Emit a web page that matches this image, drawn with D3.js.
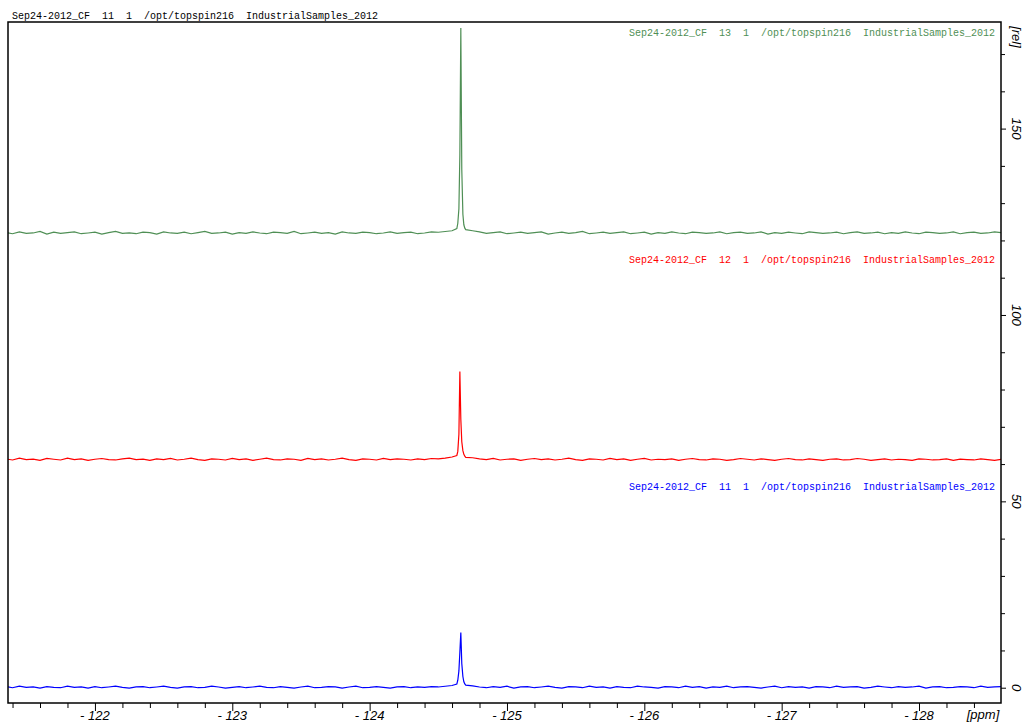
<!DOCTYPE html>
<html lang="en">
<head>
    <meta charset="UTF-8">
    <title>Sep24-2012_CF stacked 19F spectra</title>
    <script src="https://d3js.org/d3.v7.min.js"></script>
    <style>
        body { margin: 0; background: #fff; }
        svg { display: block; }
        .mono { font-family: "Liberation Mono", "DejaVu Sans Mono", monospace; font-size: 10px; white-space: pre; }
        .axlab { font-family: "Liberation Sans", Arial, sans-serif; font-size: 13px; font-style: italic; fill: #000; }
    </style>
</head>
<body>
    <div id="chart"></div>
    <script>
        // chemical shift grid (ppm), shared by the three spectra
        const ppm = [
            -121.35,-121.40,-121.45,-121.50,-121.55,-121.60,-121.65,-121.70,-121.75,-121.80,
            -121.85,-121.90,-121.95,-122.00,-122.05,-122.10,-122.15,-122.20,-122.25,-122.30,
            -122.35,-122.40,-122.45,-122.50,-122.55,-122.60,-122.65,-122.70,-122.75,-122.80,
            -122.85,-122.90,-122.95,-123.00,-123.05,-123.10,-123.15,-123.20,-123.25,-123.30,
            -123.35,-123.40,-123.45,-123.50,-123.55,-123.60,-123.65,-123.70,-123.75,-123.80,
            -123.85,-123.90,-123.95,-124.00,-124.05,-124.10,-124.15,-124.20,-124.25,-124.30,
            -124.35,-124.40,-124.45,-124.50,-124.55,-124.60,
            -124.635,-124.642,-124.650,-124.657,-124.664,-124.671,-124.679,-124.686,-124.693,-124.700,
            -124.75,-124.80,-124.85,-124.90,-124.95,-125.00,-125.05,-125.10,-125.15,-125.20,
            -125.25,-125.30,-125.35,-125.40,-125.45,-125.50,-125.55,-125.60,-125.65,-125.70,
            -125.75,-125.80,-125.85,-125.90,-125.95,-126.00,-126.05,-126.10,-126.15,-126.20,
            -126.25,-126.30,-126.35,-126.40,-126.45,-126.50,-126.55,-126.60,-126.65,-126.70,
            -126.75,-126.80,-126.85,-126.90,-126.95,-127.00,-127.05,-127.10,-127.15,-127.20,
            -127.25,-127.30,-127.35,-127.40,-127.45,-127.50,-127.55,-127.60,-127.65,-127.70,
            -127.75,-127.80,-127.85,-127.90,-127.95,-128.00,-128.05,-128.10,-128.15,-128.20,
            -128.25,-128.30,-128.35,-128.40,-128.45,-128.50,-128.55,-128.60
        ];

        // experiment 13 (top, green)
        const spec13 = [
            122.1,121.8,122.3,121.9,122.0,122.4,121.7,122.2,121.9,122.1,
            122.3,121.8,122.0,122.2,121.7,122.1,122.4,121.9,122.0,121.8,
            122.2,122.1,121.7,122.3,122.0,121.9,122.2,121.8,122.1,122.4,
            121.9,122.0,122.2,121.7,122.1,121.9,122.3,122.0,121.8,122.2,
            122.1,121.9,122.4,121.8,122.0,122.2,121.9,122.1,121.7,122.3,
            122.0,121.9,122.2,122.1,121.8,122.0,122.3,121.9,122.1,122.2,
            121.8,122.0,122.3,122.2,122.4,122.6,
            123.2,124.6,128.5,143.0,177.0,139.0,127.0,124.2,123.3,122.9,
            122.6,122.3,121.9,122.1,122.3,121.8,122.0,122.2,121.9,122.1,
            122.3,121.7,122.0,122.2,121.9,122.1,122.4,121.8,122.0,122.2,
            121.9,122.1,122.3,121.8,122.0,122.2,121.7,122.1,121.9,122.3,
            122.0,121.8,122.2,122.1,121.9,122.0,122.3,121.8,122.1,122.2,
            121.9,122.0,122.3,121.7,122.1,121.9,122.2,122.0,121.8,122.3,
            122.1,121.9,122.0,122.2,121.8,122.1,122.3,121.9,122.0,122.2,
            121.8,122.1,121.9,122.3,122.0,121.8,122.2,122.1,121.9,122.0,
            122.3,121.8,122.1,122.2,121.9,122.0,122.3,122.1
        ];

        // experiment 12 (middle, red)
        const spec12 = [
            61.4,61.1,61.6,61.2,61.3,61.0,61.5,61.3,61.1,61.6,
            61.2,61.4,61.0,61.3,61.5,61.2,61.1,61.4,61.6,61.2,
            61.3,61.0,61.4,61.2,61.5,61.1,61.3,61.6,61.2,61.0,
            61.4,61.3,61.1,61.5,61.2,61.4,61.0,61.3,61.6,61.2,
            61.1,61.4,61.3,61.0,61.5,61.2,61.4,61.1,61.3,61.6,
            61.2,61.0,61.4,61.3,61.1,61.5,61.2,61.4,61.3,61.1,
            61.4,61.2,61.5,61.4,61.6,61.9,
            62.3,63.4,68.0,84.8,72.0,66.0,63.6,62.6,62.1,61.8,
            61.7,61.4,61.2,61.5,61.1,61.3,61.4,61.0,61.3,61.5,
            61.2,61.4,61.1,61.3,61.6,61.2,61.0,61.4,61.3,61.1,
            61.5,61.2,61.4,61.0,61.3,61.5,61.1,61.3,61.2,61.4,
            61.0,61.3,61.5,61.2,61.1,61.4,61.3,61.0,61.2,61.5,
            61.3,61.1,61.4,61.2,61.0,61.3,61.5,61.2,61.1,61.4,
            61.2,61.0,61.3,61.4,61.1,61.2,61.5,61.3,61.0,61.2,
            61.4,61.1,61.3,61.2,61.0,61.4,61.3,61.1,61.2,61.4,
            61.0,61.3,61.2,61.1,61.4,61.2,61.0,61.3
        ];

        // experiment 11 (bottom, blue)
        const spec11 = [
            0.3,0.0,0.4,0.1,0.2,-0.1,0.3,0.1,0.0,0.4,
            0.1,0.2,-0.1,0.3,0.0,0.2,0.4,0.1,-0.1,0.2,
            0.3,0.0,0.2,0.4,0.1,-0.1,0.2,0.3,0.0,0.1,
            0.4,0.2,-0.1,0.1,0.3,0.0,0.2,0.4,0.1,0.0,
            0.3,0.1,-0.1,0.2,0.4,0.0,0.1,0.3,0.2,-0.1,
            0.2,0.4,0.0,0.1,0.3,0.1,-0.1,0.2,0.3,0.0,
            0.2,0.1,0.3,0.2,0.4,0.6,
            1.0,2.0,4.5,9.5,14.8,6.5,3.0,1.6,1.0,0.7,
            0.5,0.2,0.0,0.3,0.1,0.4,-0.1,0.2,0.3,0.0,
            0.2,0.4,0.1,-0.1,0.3,0.2,0.0,0.4,0.1,0.2,
            -0.1,0.3,0.1,0.0,0.4,0.2,0.1,-0.1,0.3,0.2,
            0.0,0.4,0.1,0.3,-0.1,0.2,0.1,0.4,0.0,0.2,
            0.3,0.1,-0.1,0.2,0.4,0.0,0.3,0.1,0.2,-0.1,
            0.3,0.2,0.0,0.4,0.1,0.2,0.3,-0.1,0.1,0.4,
            0.2,0.0,0.3,0.1,0.2,0.4,-0.1,0.2,0.3,0.0,
            0.1,0.3,0.2,0.0,0.4,0.1,0.2,0.3
        ];

        const expNames = ["13", "12", "11"];
        const titleText = "Sep24-2012_CF  11  1  /opt/topspin216  IndustrialSamples_2012";

        const xMajor = [-122, -123, -124, -125, -126, -127, -128];
        const xMinor = [-121.4, -121.6, -121.8, -122.2, -122.4, -122.6, -122.8, -123.2, -123.4, -123.6, -123.8,
                        -124.2, -124.4, -124.6, -124.8, -125.2, -125.4, -125.6, -125.8, -126.2, -126.4, -126.6, -126.8,
                        -127.2, -127.4, -127.6, -127.8, -128.2, -128.4];
        const yMajor = [0, 50, 100, 150];
        const yMinor = [10, 20, 30, 40, 60, 70, 80, 90, 110, 120, 130, 140, 160, 170];

        const W = 1023, H = 724;
        const frame = {left: 8, top: 22, right: 1001, bottom: 703};

        const svg = d3.select("#chart").append("svg")
            .attr("width", W)
            .attr("height", H);

        const x = d3.scaleLinear().domain([-121.367, -128.597]).range([frame.left, frame.right]);
        const y = d3.scaleLinear().domain([-4.1, 178.6]).range([frame.bottom, frame.top]);

        svg.append("defs").append("clipPath").attr("id", "plotClip")
            .append("rect")
            .attr("x", frame.left).attr("y", frame.top)
            .attr("width", frame.right - frame.left).attr("height", frame.bottom - frame.top);

        const series = [
            {name: expNames[0], values: spec13, color: "#4f8f55", labelY: 36},
            {name: expNames[1], values: spec12, color: "#ff0000", labelY: 263},
            {name: expNames[2], values: spec11, color: "#0000ff", labelY: 490}
        ];

        const line = d3.line()
            .x((d, i) => x(ppm[i]))
            .y(d => y(d));

        const plot = svg.append("g").attr("clip-path", "url(#plotClip)");

        plot.selectAll("path.spec")
            .data(series)
            .enter().append("path")
            .attr("class", "spec")
            .attr("fill", "none")
            .attr("stroke", d => d.color)
            .attr("stroke-width", 1.2)
            .attr("d", d => line(d.values));

        // dataset labels, right aligned inside the frame
        svg.selectAll("text.dslabel")
            .data(series)
            .enter().append("text")
            .attr("class", "mono dslabel")
            .attr("x", 995)
            .attr("y", d => d.labelY)
            .attr("text-anchor", "end")
            .attr("fill", d => d.color)
            .text(d => titleText.replace("  11  ", "  " + d.name + "  "));

        // header above frame
        svg.append("text")
            .attr("class", "mono")
            .attr("x", 12)
            .attr("y", 18.5)
            .attr("fill", "#000")
            .text(titleText);

        // frame
        svg.append("rect")
            .attr("x", frame.left).attr("y", frame.top)
            .attr("width", frame.right - frame.left).attr("height", frame.bottom - frame.top)
            .attr("fill", "none")
            .attr("stroke", "#000")
            .attr("stroke-width", 1.5);

        // bottom ppm axis
        const xMinorAxis = svg.append("g")
            .attr("transform", `translate(0,${frame.bottom})`)
            .call(d3.axisBottom(x).tickValues(xMinor).tickSize(5).tickFormat(""));
        const xMajorAxis = svg.append("g")
            .attr("transform", `translate(0,${frame.bottom})`)
            .call(d3.axisBottom(x).tickValues(xMajor).tickSize(8).tickFormat(""));

        [xMinorAxis, xMajorAxis].forEach(g => {
            g.select(".domain").remove();
            g.selectAll("line").attr("stroke", "#000").attr("stroke-width", 1);
        });

        svg.selectAll("text.xlab")
            .data(xMajor)
            .enter().append("text")
            .attr("class", "axlab xlab")
            .attr("text-anchor", "middle")
            .attr("x", d => x(d))
            .attr("y", 720)
            .style("white-space", "pre")
            .text(d => "- " + Math.abs(d));

        // right intensity axis
        const yMinorAxis = svg.append("g")
            .attr("transform", `translate(${frame.right},0)`)
            .call(d3.axisRight(y).tickValues(yMinor).tickSize(4).tickFormat(""));
        const yMajorAxis = svg.append("g")
            .attr("transform", `translate(${frame.right},0)`)
            .call(d3.axisRight(y).tickValues(yMajor).tickSize(5).tickFormat(""));

        [yMinorAxis, yMajorAxis].forEach(g => {
            g.select(".domain").remove();
            g.selectAll("line").attr("stroke", "#000").attr("stroke-width", 1);
        });

        svg.selectAll("text.ylab")
            .data(yMajor)
            .enter().append("text")
            .attr("class", "axlab ylab")
            .attr("text-anchor", "middle")
            .attr("transform", d => `translate(1012,${y(d)}) rotate(90)`)
            .text(d => d);

        svg.append("text")
            .attr("class", "axlab")
            .attr("text-anchor", "middle")
            .attr("transform", `translate(1012,37) rotate(90)`)
            .text("[rel]");

        svg.append("text")
            .attr("class", "axlab")
            .attr("text-anchor", "middle")
            .attr("x", 983)
            .attr("y", 719)
            .text("[ppm]");
    </script>
</body>
</html>
